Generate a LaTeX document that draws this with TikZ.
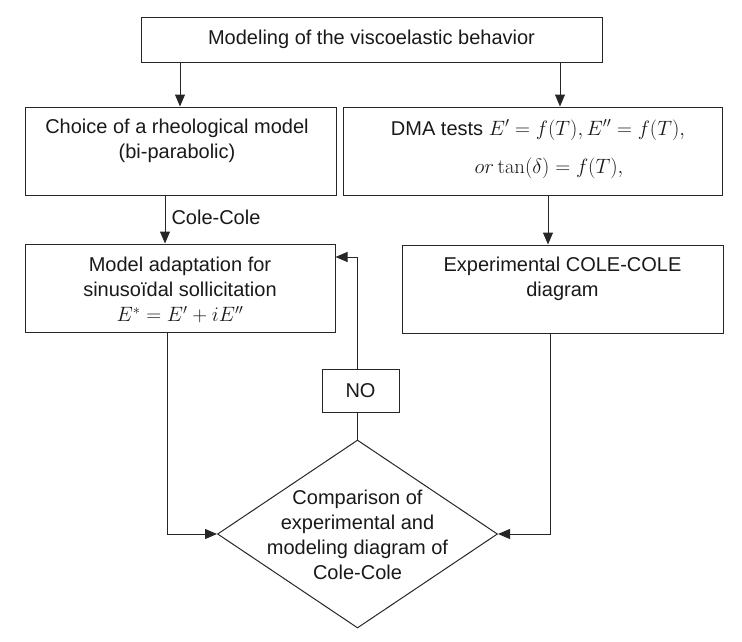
\documentclass[tikz,border=0pt]{standalone}
\usepackage[no-math]{fontspec}
\setmainfont{Liberation Sans}
\usetikzlibrary{arrows.meta,shapes.geometric}
\begin{document}
\begin{tikzpicture}[x=1pt,y=-1pt,
  box/.style={draw=black!85,line width=1pt,rectangle,inner sep=0pt},
  txt/.style={font=\fontsize{20}{25}\selectfont,align=center,inner sep=0pt,text=black!90},
  conn/.style={draw=black!85,line width=1pt},
  arr/.style={conn,-{Triangle[length=12pt,width=10pt]}}]
\useasboundingbox (0,0) rectangle (742,641);
% boxes
\node[box,minimum width=461pt,minimum height=45pt] (top) at (371.5,39.5) {};
\node[box,minimum width=311pt,minimum height=88pt] (choice) at (180.5,151) {};
\node[box,minimum width=379pt,minimum height=88pt] (dma) at (532.5,151) {};
\node[box,minimum width=310pt,minimum height=88pt] (model) at (180,288) {};
\node[box,minimum width=321pt,minimum height=88pt] (exp) at (562.5,289) {};
\node[box,minimum width=77pt,minimum height=43pt] (no) at (360.5,390.5) {};
\node[draw=black!85,line width=1pt,diamond,minimum width=280pt,minimum height=188pt,inner sep=0pt] (cmp) at (357.5,534) {};
% texts
\node[txt] (ttop) at (371.5,39) {Modeling of the viscoelastic behavior};
\node[txt] (tchoice) at (177,141) {Choice of a rheological model\\(bi-parabolic)};
\node[txt] (tdma1) at (538,130) {DMA tests $E' = f(T), E'' = f(T),$};
\node[txt] (tdma2) at (549,168) {$or\tan(\delta) = f(T),$};
\node[txt] (tmodel) at (180,290) {Model adaptation for\\sinusoïdal sollicitation\\$E^{*} = E' + iE''$};
\node[txt] (texp) at (562.5,279) {Experimental COLE-COLE\\diagram};
\node[txt] (tno) at (360.5,390.5) {NO};
\node[txt] (tcmp) at (357.5,535) {Comparison of\\experimental and\\modeling diagram of\\Cole-Cole};
% helper x/y positions
\coordinate (xa) at (180,0);
\coordinate (xb) at (560,0);
\coordinate (xc) at (165,0);
\coordinate (xd) at (548,0);
\coordinate (xe) at (167,0);
\coordinate (xf) at (550,0);
\coordinate (yfb) at (0,257);
% connectors
\draw[arr] (top.south -| xa) -- (choice.north -| xa);
\draw[arr] (top.south -| xb) -- (dma.north -| xb);
\draw[arr] (choice.south -| xc) -- node[pos=0.45,right=6pt,txt] (lcole) {Cole-Cole} (model.north -| xc);
\draw[arr] (dma.south -| xd) -- (exp.north -| xd);
\draw[arr] (model.south -| xe) |- (cmp.west);
\draw[arr] (exp.south -| xf) |- (cmp.east);
\draw[conn] (cmp.north) -- (no.south -| cmp.north);
\draw[arr] (no.north -| cmp.north) |- (model.east |- yfb);
\end{tikzpicture}
\end{document}
